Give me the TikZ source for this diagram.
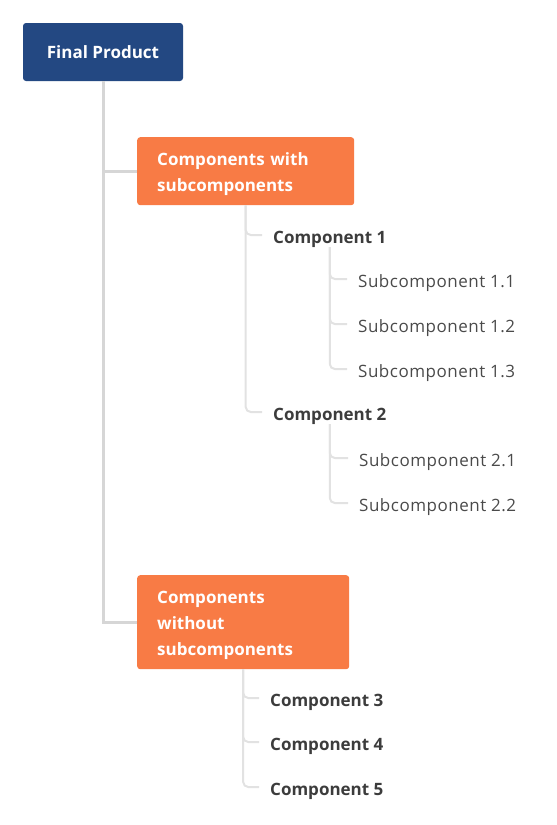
\documentclass[tikz,border=0pt]{standalone}
\usepackage{fontspec}
\setmainfont{Open Sans}
\newfontfamily\subfont[LetterSpace=3]{Open Sans}
\definecolor{prodblue}{HTML}{234882}
\definecolor{grouporange}{HTML}{F87B45}
\definecolor{trunkgray}{HTML}{D6D6D6}
\definecolor{branchgray}{HTML}{E2E2E2}
\definecolor{labelgray}{HTML}{3C3C3C}
\definecolor{subgray}{HTML}{4A4A4A}

\begin{document}
\begin{tikzpicture}[x=1pt,y=-1pt,
  prodbox/.style={fill=prodblue,text=white,rounded corners=3pt,inner sep=0pt,
    minimum width=160pt,minimum height=58pt,font=\bfseries\fontsize{17}{20}\selectfont},
  groupbox/.style={fill=grouporange,text=white,rounded corners=3pt,anchor=north west,
    align=left,inner xsep=20pt,inner ysep=0pt,text height=18pt,
    font=\bfseries\fontsize{17}{26}\selectfont},
  comp/.style={anchor=west,inner xsep=11pt,inner ysep=0pt,text height=20pt,text depth=4pt,
    text=labelgray,font=\bfseries\fontsize{17}{20}\selectfont},
  subcomp/.style={anchor=west,inner xsep=11pt,inner ysep=0pt,text height=20pt,text depth=4pt,
    text=subgray,font=\subfont\fontsize{17}{20}\selectfont},
  trunk/.style={draw=trunkgray,line width=3pt},
  branch/.style={draw=branchgray,line width=2pt,rounded corners=5pt}]
\path[use as bounding box] (0,0) rectangle (557,825);

% boxes
\node[prodbox] (fp) at (103,52) {Final Product};
\node[groupbox,text width=177pt,minimum height=68pt] (cws) at (137,137) {Components with\\subcomponents};
\node[groupbox,text width=172pt,minimum height=94pt] (cwo) at (137,575) {Components\\without\\subcomponents};

% components with subcomponents
\node[comp] (c1) at (262,235) {Component 1};
\node[subcomp] (s11) at (347,279) {Subcomponent 1.1};
\node[subcomp] (s12) at (347,324) {Subcomponent 1.2};
\node[subcomp] (s13) at (347,369) {Subcomponent 1.3};
\node[comp] (c2) at (262,412) {Component 2};
\node[subcomp] (s21) at (348,458) {Subcomponent 2.1};
\node[subcomp] (s22) at (348,503) {Subcomponent 2.2};

% components without subcomponents
\node[comp] (c3) at (259,698) {Component 3};
\node[comp] (c4) at (259,742) {Component 4};
\node[comp] (c5) at (259,787) {Component 5};

% connectors
\draw[trunk] (fp.south) |- (cws.west);
\draw[trunk] (fp.south) |- (cwo.west);
\draw[branch] (cws.south) |- (c1.west);
\draw[branch] (cws.south) |- (c2.west);
\draw[branch] (c1.south) |- (s11.west);
\draw[branch] (c1.south) |- (s12.west);
\draw[branch] (c1.south) |- (s13.west);
\draw[branch] (c2.south) |- (s21.west);
\draw[branch] (c2.south) |- (s22.west);
\draw[branch] (cwo.south) |- (c3.west);
\draw[branch] (cwo.south) |- (c4.west);
\draw[branch] (cwo.south) |- (c5.west);
\end{tikzpicture}
\end{document}
